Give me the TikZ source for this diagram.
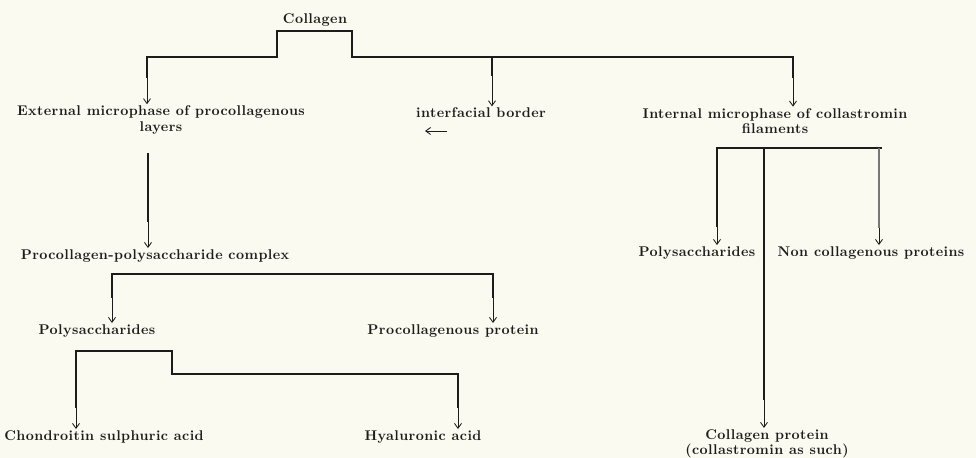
\documentclass[tikz,border=0pt]{standalone}
\usepackage{fontspec}
\setmainfont{Latin Modern Roman}[LetterSpace=3]
\usepackage{tikz}
\usetikzlibrary{arrows.meta, positioning}
\definecolor{paper}{RGB}{251,250,241}
\definecolor{ink}{RGB}{30,28,26}

\begin{document}
\begin{tikzpicture}[
        x=0.025cm, y=-0.025cm,
        lbl/.style={font=\bfseries\fontsize{10}{11}\selectfont, text=ink, inner sep=1pt, align=center},
        bus/.style={draw=ink, line width=1.6pt},
        faint/.style={draw=ink!60, line width=1pt},
        arrow/.style={draw=ink, -{Straight Barb[length=3.5pt,width=5pt]}, line width=0.6pt}
    ]

    \fill[paper] (0,0) rectangle (976,458);
    \useasboundingbox (0,0) rectangle (976,458);

    % Nodes
    \node[lbl] (col) at (315,20) {Collagen};
    \node[lbl] (ext) at (161,120) {External microphase of procollagenous\\layers};
    \node[lbl] (ifb) at (481,113) {interfacial border};
    \node[lbl] (int) at (775,121) {Internal microphase of collastromin\\filaments};
    \node[lbl] (ppc) at (155,256) {Procollagen-polysaccharide complex};
    \node[lbl] (polyA) at (97,331) {Polysaccharides};
    \node[lbl] (pcp) at (453,331) {Procollagenous protein};
    \node[lbl] (csa) at (104,437) {Chondroitin sulphuric acid};
    \node[lbl] (hya) at (423,437) {Hyaluronic acid};
    \node[lbl] (polyB) at (697,253) {Polysaccharides};
    \node[lbl] (ncp) at (871,253) {Non collagenous proteins};
    \node[lbl] (cpr) at (767,444) {Collagen protein\\(collastromin as such)};

    % Junctions
    \coordinate (jExt) at (147,78);
    \coordinate (jIfb) at (492,76);
    \coordinate (jInt) at (793,78);
    \coordinate (jPpcT) at (148,153);
    \coordinate (jPpc) at (148,222);
    \coordinate (jPolyA) at (112,298);
    \coordinate (jPcp) at (493,298);
    \coordinate (jCsa) at (76,408);
    \coordinate (jHya) at (458,408);
    \coordinate (jPolyB) at (717,227);
    \coordinate (jNcp) at (879,228);
    \coordinate (jCpr) at (764,400);
    \coordinate (ifbA) at (447,131);
    \coordinate (ifbB) at (425,131);

    % Lines
    \draw[bus] (jExt) |- (277,57) |- (352,31) -- (352,57) -| (jInt);
    \draw[bus] (492,57) -- (jIfb);
    \draw[bus] (jPpcT) -- (jPpc);
    \draw[bus] (jPolyA) -- (112,274) -| (jPcp);
    \draw[bus] (jCsa) |- (172,351) -- (172,374) -| (jHya);
    \draw[bus] (jPolyB) -- (717,148) -- (882,148);
    \draw[faint] (879,148) -- (jNcp);
    \draw[bus] (764,148) -- (jCpr);

    % Arrows
    \draw[arrow] (jExt) -- (jExt |- ext.north);
    \draw[arrow] (jIfb) -- (jIfb |- ifb.north);
    \draw[arrow] (jInt) -- (jInt |- int.north);
    \draw[arrow] (jPpc) -- (jPpc |- ppc.north);
    \draw[arrow] (jPolyA) -- (jPolyA |- polyA.north);
    \draw[arrow] (jPcp) -- (jPcp |- pcp.north);
    \draw[arrow] (jCsa) -- (jCsa |- csa.north);
    \draw[arrow] (jHya) -- (jHya |- hya.north);
    \draw[arrow] (jPolyB) -- (jPolyB |- polyB.north);
    \draw[arrow] (jNcp) -- (jNcp |- ncp.north);
    \draw[arrow] (jCpr) -- (jCpr |- cpr.north);
    \draw[arrow] (ifbA) -- (ifbB);

\end{tikzpicture}
\end{document}
